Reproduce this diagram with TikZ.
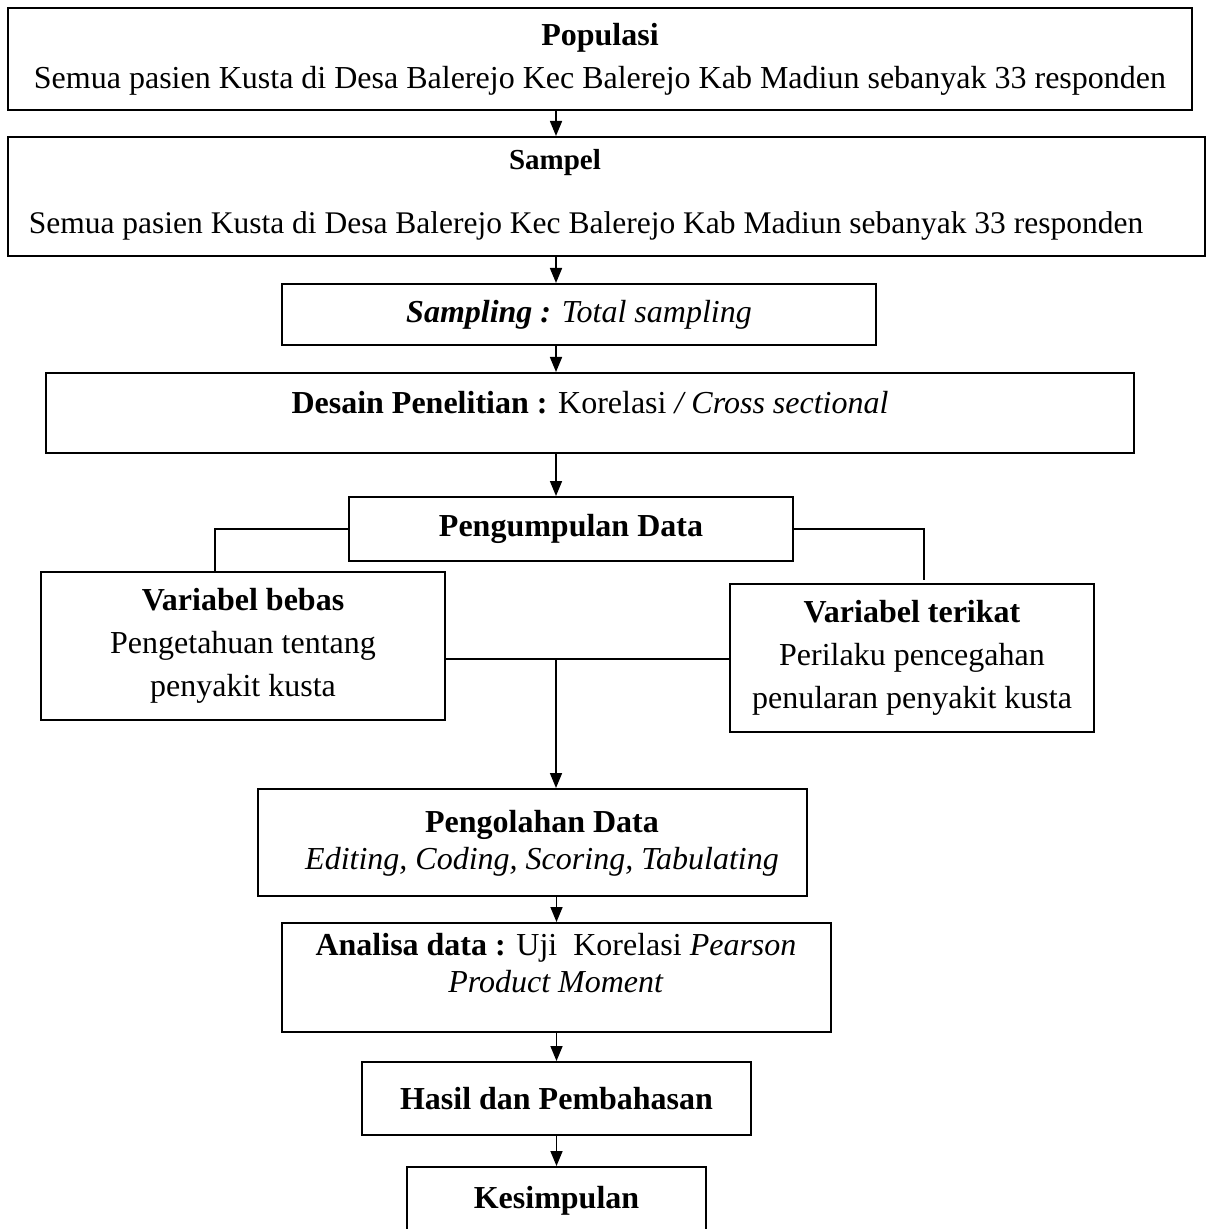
\documentclass[tikz,border=0pt]{standalone}
\usepackage{fontspec}
\setmainfont{Liberation Serif}
\usetikzlibrary{arrows.meta}

\tikzset{
  box/.style={draw,line width=1pt,inner sep=0pt,align=center,font=\fontsize{16}{21.5}\selectfont},
  txt/.style={inner sep=0pt,align=center,font=\fontsize{16}{18.5}\selectfont},
  link/.style={line width=0.8pt},
}

\begin{document}
\begin{tikzpicture}[x=0.5pt,y=-0.5pt,>={Triangle[length=7.5pt,width=6pt]}]
\useasboundingbox (0,0) rectangle (1210,1229);
% kotak alur penelitian
\node[box,minimum width=592pt,minimum height=51pt] (pop) at (600,59)
  {\textbf{Populasi}\\Semua pasien Kusta di Desa Balerejo Kec Balerejo Kab Madiun sebanyak 33 responden};
\node[box,minimum width=598.5pt,minimum height=59.5pt] (sampel) at (606.5,196.5) {};
\node[txt,font=\fontsize{14.5}{18.5}\selectfont] (sampeljudul) at (555,163) {\textbf{Sampel}};
\node[txt,font=\fontsize{15.75}{18.5}\selectfont] (sampeltxt) at (586,226)
  {Semua pasien Kusta di Desa Balerejo Kec Balerejo Kab Madiun sebanyak 33 responden};
\node[box,minimum width=297pt,minimum height=30.5pt] (sampling) at (579,314.5)
  {\textbf{\textit{Sampling :}} \textit{Total sampling}};
\node[box,minimum width=544pt,minimum height=40pt] (desain) at (590,413) {};
\node[txt] (desaintxt) at (590,403) {\textbf{Desain Penelitian :} Korelasi \textit{/ Cross sectional}};
\node[box,minimum width=222pt,minimum height=32pt] (kumpul) at (571,529) {\textbf{Pengumpulan Data}};
\node[box,minimum width=202pt,minimum height=74pt] (bebas) at (243,646)
  {\textbf{Variabel bebas}\\Pengetahuan tentang\\penyakit kusta};
\node[box,minimum width=182pt,minimum height=74pt] (terikat) at (912,658)
  {\textbf{Variabel terikat}\\Perilaku pencegahan\\penularan penyakit kusta};
\node[box,minimum width=274.5pt,minimum height=53.5pt] (olah) at (532.5,842.5) {};
\node[txt] (olahtxt) at (542,843.5) {\textbf{Pengolahan Data}\\\textit{Editing, Coding, Scoring, Tabulating}};
\node[box,minimum width=274.5pt,minimum height=54.5pt] (analisa) at (556.5,977.5) {};
\node[txt] (analisatxt) at (556,963.5) {\textbf{Analisa data :} Uji\ \ Korelasi \textit{Pearson}\\\textit{Product Moment}};
\node[box,minimum width=194.5pt,minimum height=36.5pt] (hasil) at (556.5,1098.5) {\textbf{Hasil dan Pembahasan}};
\node[box,minimum width=149.5pt,minimum height=34pt] (kes) at (556.5,1201) {\textbf{Kesimpulan}};

% garis penghubung
\coordinate (lknee) at (215,572);
\coordinate (rknee) at (924,580);
\coordinate (mid) at (556,659);
\draw[link,->] (pop.south -| mid) -- (sampel.north -| mid);
\draw[link,->] (sampel.south -| mid) -- (sampling.north -| mid);
\draw[link,->] (sampling.south -| mid) -- (desain.north -| mid);
\draw[link,->] (desain.south -| mid) -- (kumpul.north -| mid);
\draw[link] (kumpul.west) -| (lknee);
\draw[link] (kumpul.east) -| (rknee);
\draw[link] (bebas.east |- mid) -- (terikat.west |- mid);
\draw[link,->] (mid) -- (olah.north -| mid);
\draw[link,->] (olah.south -| hasil) -- (analisa.north -| hasil);
\draw[link,->] (analisa.south -| hasil) -- (hasil.north);
\draw[link,->] (hasil.south) -- (kes.north);
\end{tikzpicture}
\end{document}
